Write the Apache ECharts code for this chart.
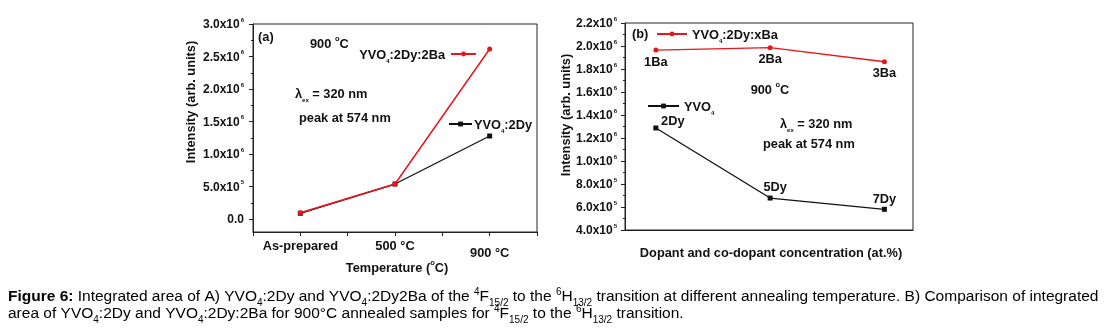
<!DOCTYPE html>
<html>
<head>
<meta charset="utf-8">
<script src="https://cdn.jsdelivr.net/npm/echarts@6/dist/echarts.min.js"></script>
<style>
  html, body { margin: 0; padding: 0; background: #fff; }
  #chart { width: 1105px; height: 332px; }
</style>
</head>
<body>
<div id="chart"></div>
<script>
// ---- Panel (a): intensity versus annealing temperature ----
const tempCategories = ['As-prepared', '500 °C', '900 °C'];
const dy2Intensity   = [8.8e4, 5.38e5, 1.277e6];   // YVO4:2Dy
const dy2Ba2Intensity = [9.6e4, 5.38e5, 2.615e6];  // YVO4:2Dy:2Ba
const leftYTicks = [0, 5e5, 1e6, 1.5e6, 2e6, 2.5e6, 3e6];
const leftYMinor = [2.5e5, 7.5e5, 1.25e6, 1.75e6, 2.25e6, 2.75e6];

// ---- Panel (b): intensity versus dopant / co-dopant concentration ----
const baLabels = ['1Ba', '2Ba', '3Ba'];
const baIntensity = [1.965e6, 1.985e6, 1.863e6];   // YVO4:2Dy:xBa
const dyLabels = ['2Dy', '5Dy', '7Dy'];
const dyIntensity = [1.287e6, 6.78e5, 5.8e5];      // YVO4:xDy

const FONT = '"Liberation Sans", Arial, sans-serif';
const RED = '#e8161c';
const BLACK = '#111';

const labelRich = {
  m: { fontFamily: FONT, fontWeight: 'bold', fontSize: 12, color: '#111', lineHeight: 14, verticalAlign: 'bottom' },
  e: { fontFamily: FONT, fontWeight: 'bold', fontSize: 6, color: '#111', lineHeight: 14, verticalAlign: 'top', padding: [0, 0, 6, 1] }
};
function sciLabel(v) {
  if (v === 0) return '{m|0.0}';
  const exp = Math.floor(Math.log10(v) + 1e-9);
  const man = (v / Math.pow(10, exp)).toFixed(1);
  return '{m|' + man + 'x10}{e|' + exp + '}';
}

const txtRich = {
  t: { fontFamily: FONT, fontWeight: 'bold', fontSize: 12.8, color: '#111', lineHeight: 16, verticalAlign: 'bottom' },
  sub: { fontFamily: FONT, fontWeight: 'bold', fontSize: 6, color: '#111', lineHeight: 16, verticalAlign: 'bottom', padding: [0, 0, -2, 0] },
  sup: { fontFamily: FONT, fontWeight: 'bold', fontSize: 7.5, color: '#111', lineHeight: 16, verticalAlign: 'top', padding: [0, 0, 5, 0] }
};
function formulaRich(name) {
  // YVO4 -> YVO with subscript 4
  return name.split('YVO4').map(function (s) { return s ? '{t|' + s + '}' : ''; })
    .join('{t|YVO}{sub|4}');
}

function textEl(x, y, rich, align, rotation) {
  return {
    type: 'text', x: x, y: y, silent: true, rotation: rotation || 0,
    style: { text: rich, rich: txtRich, fill: '#111', verticalAlign: 'middle', align: align || 'left' }
  };
}

const capRich = {
  b: { fontFamily: FONT, fontWeight: 'bold', fontSize: 15.5, color: '#000', lineHeight: 17, verticalAlign: 'bottom' },
  n: { fontFamily: FONT, fontSize: 15.5, color: '#000', lineHeight: 17, verticalAlign: 'bottom' },
  sub: { fontFamily: FONT, fontSize: 10, color: '#000', lineHeight: 17, verticalAlign: 'bottom', padding: [0, 0, -4, 0] },
  sup: { fontFamily: FONT, fontSize: 10, color: '#000', lineHeight: 17, verticalAlign: 'top', padding: [0, 0, 6, 0] }
};
const caption1 = '{b|Figure 6:}{n| Integrated area of A) YVO}{sub|4}{n|:2Dy and YVO}{sub|4}{n|:2Dy2Ba of the }{sup|4}{n|F}{sub|15/2}{n| to the }{sup|6}{n|H}{sub|13/2}{n| transition at different annealing temperature. B) Comparison of integrated}';
const caption2 = '{n|area of YVO}{sub|4}{n|:2Dy and YVO}{sub|4}{n|:2Dy:2Ba for 900°C annealed samples for }{sup|4}{n|F}{sub|15/2}{n| to the }{sup|6}{n|H}{sub|13/2}{n| transition.}';

const chart = echarts.init(document.getElementById('chart'), null, { renderer: 'canvas' });

const axisLineStyle = { color: '#222', width: 1 };

chart.setOption({
  backgroundColor: '#fff',
  animation: false,
  grid: [
    { left: 253, top: 24, width: 284, height: 208, show: true, borderColor: '#222', borderWidth: 1, backgroundColor: 'transparent' },
    { left: 625, top: 23, width: 288, height: 207, show: true, borderColor: '#222', borderWidth: 1, backgroundColor: 'transparent' }
  ],
  xAxis: [
    {
      type: 'value', gridIndex: 0, min: -0.5, max: 2.5, interval: 0.5,
      axisLine: { show: true, onZero: false, lineStyle: axisLineStyle },
      axisTick: { show: true, length: 4, inside: false, lineStyle: axisLineStyle },
      splitLine: { show: false },
      axisLabel: {
        margin: 8, fontFamily: FONT, fontWeight: 'bold', fontSize: 12.8, color: '#111',
        formatter: function (v) {
          const i = Math.round(v);
          if (Math.abs(v - i) > 1e-6 || i < 0 || i >= tempCategories.length) return '';
          return i === 2 ? '{low|' + tempCategories[i] + '}' : tempCategories[i];
        },
        rich: { low: { fontFamily: FONT, fontWeight: 'bold', fontSize: 12.8, color: '#111', padding: [7, 0, 0, 0] } }
      }
    },
    {
      type: 'value', gridIndex: 1, min: -0.27, max: 2.25,
      axisLine: { show: true, onZero: false, lineStyle: axisLineStyle },
      axisTick: { show: false }, axisLabel: { show: false }, splitLine: { show: false }
    }
  ],
  yAxis: [
    {
      type: 'value', gridIndex: 0, min: -2e5, max: 3e6, position: 'left',
      axisLine: { show: true, onZero: false, lineStyle: axisLineStyle },
      axisTick: { show: true, length: 4, customValues: leftYTicks, lineStyle: axisLineStyle },
      splitLine: { show: false },
      axisLabel: { margin: 9, customValues: leftYTicks, formatter: sciLabel, rich: labelRich }
    },
    {
      // minor ticks of panel (a)
      type: 'value', gridIndex: 0, min: -2e5, max: 3e6, position: 'left', offset: 0,
      axisLine: { show: false, onZero: false },
      axisTick: { show: true, length: 2, customValues: leftYMinor, lineStyle: axisLineStyle },
      axisLabel: { show: false }, splitLine: { show: false }
    },
    {
      type: 'value', gridIndex: 1, min: 4e5, max: 2.2e6, interval: 2e5, position: 'left',
      axisLine: { show: true, onZero: false, lineStyle: axisLineStyle },
      axisTick: { show: true, length: 4, lineStyle: axisLineStyle },
      minorTick: { show: true, splitNumber: 2, length: 2, lineStyle: axisLineStyle },
      splitLine: { show: false },
      axisLabel: { margin: 8, formatter: sciLabel, rich: labelRich }
    }
  ],
  legend: [
    {
      data: ['YVO4:2Dy:2Ba'], right: 628, top: 49, align: 'right', padding: 0,
      itemWidth: 25, itemHeight: 6, itemGap: 0,
      formatter: formulaRich, textStyle: { rich: txtRich, padding: [0, 1, 0, 0] }
    },
    {
      data: ['YVO4:2Dy'], left: 448, top: 119, align: 'left', padding: 0,
      itemWidth: 23, itemHeight: 6,
      formatter: formulaRich, textStyle: { rich: txtRich, padding: [0, 0, 0, -3] }
    },
    {
      data: ['YVO4:2Dy:xBa'], left: 656, top: 29, align: 'left', padding: 0,
      itemWidth: 30, itemHeight: 6,
      formatter: formulaRich, textStyle: { rich: txtRich }
    },
    {
      data: ['YVO4'], left: 647, top: 101, align: 'left', padding: 0,
      itemWidth: 31, itemHeight: 6,
      formatter: formulaRich, textStyle: { rich: txtRich }
    }
  ],
  series: [
    {
      name: 'YVO4:2Dy', type: 'line', xAxisIndex: 0, yAxisIndex: 0,
      data: dy2Intensity.map(function (v, i) { return [i, v]; }),
      symbol: 'rect', symbolSize: 5, showSymbol: true,
      lineStyle: { color: BLACK, width: 1.3 }, itemStyle: { color: BLACK }, z: 2
    },
    {
      name: 'YVO4:2Dy:2Ba', type: 'line', xAxisIndex: 0, yAxisIndex: 0,
      data: dy2Ba2Intensity.map(function (v, i) { return [i, v]; }),
      symbol: 'circle', symbolSize: 5,
      lineStyle: { color: RED, width: 1.5 }, itemStyle: { color: RED }, z: 3
    },
    {
      name: 'YVO4:2Dy:xBa', type: 'line', xAxisIndex: 1, yAxisIndex: 2,
      data: baIntensity.map(function (v, i) {
        return { value: [i, v], label: { show: true, position: 'bottom', distance: 3, formatter: baLabels[i] } };
      }),
      symbol: 'circle', symbolSize: 5,
      label: { fontFamily: FONT, fontWeight: 'bold', fontSize: 12.8, color: '#111' },
      lineStyle: { color: RED, width: 1.3 }, itemStyle: { color: RED }
    },
    {
      name: 'YVO4', type: 'line', xAxisIndex: 1, yAxisIndex: 2,
      data: dyIntensity.map(function (v, i) {
        const offs = [[17, 5], [5, 1], [0, 2]];
        return { value: [i, v], label: { show: true, position: 'top', distance: 3,
          offset: offs[i], formatter: dyLabels[i] } };
      }),
      symbol: 'rect', symbolSize: 5,
      label: { fontFamily: FONT, fontWeight: 'bold', fontSize: 12.8, color: '#111' },
      lineStyle: { color: BLACK, width: 1.3 }, itemStyle: { color: BLACK }
    }
  ],
  graphic: [
    // panel (a) annotations
    textEl(258, 36, '{t|(a)}'),
    textEl(310, 43, '{t|900 }{sup|o}{t|C}'),
    textEl(295, 93, '{t|λ}{sub|ex}{t| = 320 nm}'),
    textEl(299, 117, '{t|peak at 574 nm}'),
    textEl(190, 102, '{t|Intensity (arb. units)}', 'center', Math.PI / 2),
    textEl(397, 267, '{t|Temperature (}{sup|o}{t|C)}', 'center'),
    // panel (b) annotations
    textEl(632, 33, '{t|(b)}'),
    textEl(770, 89, '{t|900 }{sup|o}{t|C}', 'center'),
    textEl(780, 123, '{t|λ}{sub|ex}{t| = 320 nm}'),
    textEl(763, 143, '{t|peak at 574 nm}'),
    textEl(565, 115, '{t|Intensity (arb. units)}', 'center', Math.PI / 2),
    textEl(771, 252, '{t|Dopant and co-dopant concentration (at.%)}', 'center'),
    // caption
    { type: 'text', x: 8, y: 296, silent: true, style: { text: caption1, rich: capRich, verticalAlign: 'middle', align: 'left' } },
    { type: 'text', x: 8, y: 313, silent: true, style: { text: caption2, rich: capRich, verticalAlign: 'middle', align: 'left' } }
  ]
});
</script>
</body>
</html>
